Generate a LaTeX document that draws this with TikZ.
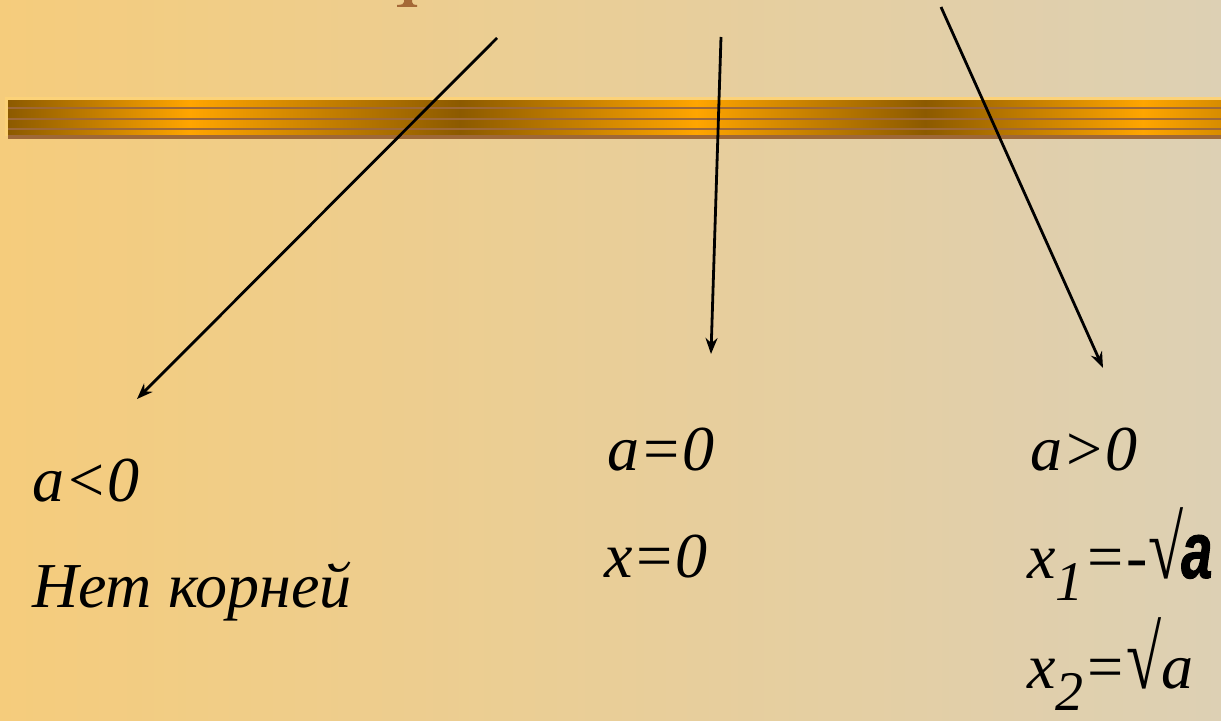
\documentclass[tikz,border=0pt]{standalone}
\usepackage{fontspec}
\setmainfont{Liberation Serif}
\newfontfamily\impactish[FakeStretch=0.7,FakeBold=1.2]{Liberation Sans}
\usetikzlibrary{arrows.meta}
\definecolor{bgL}{RGB}{245,204,124}
\definecolor{bgR}{RGB}{221,208,180}
\definecolor{bardark}{RGB}{140,90,0}
\definecolor{barbright}{RGB}{255,165,0}
\definecolor{barend}{RGB}{215,140,0}
\definecolor{barline}{RGB}{158,104,55}
\definecolor{baredge}{RGB}{252,210,120}
\definecolor{titlebrown}{RGB}{165,105,55}
\pgfdeclarehorizontalshading{barshade}{100bp}{color(0bp)=(bardark); color(25bp)=(bardark); color(32.5bp)=(barbright); color(43.63bp)=(bardark); color(53.36bp)=(barbright); color(62.8bp)=(bardark); color(71.78bp)=(barbright); color(75bp)=(barend); color(100bp)=(barend)}
\newcommand{\rootsign}{\scalebox{1.0}[1.4]{\upshape √}}
\newcommand{\lowsub}[1]{\raisebox{-22bp}{\fontsize{56bp}{60bp}\selectfont #1}}
\begin{document}
\begin{tikzpicture}[x=1bp,y=-1bp,
  txt/.style={inner sep=0pt, anchor=base west, font=\fontsize{64bp}{76bp}\selectfont\itshape},
  arr/.style={line width=2.8bp, -{Stealth[length=16bp,width=12bp]}}]
\useasboundingbox (0,0) rectangle (1221,721);
\shade[left color=bgL,right color=bgR] (0,0) rectangle (1221,721);
% fragment of the cut-off title
\fill[titlebrown] (404,0) -- (404,2) .. controls (403,4.5) .. (397,5) -- (397,7) -- (417,7) -- (417,5) .. controls (413,4.5) .. (412,2) -- (412,0) -- cycle;
% decorative bar
\fill[baredge] (5,97.5) rectangle (1221,136);
\shade[shading=barshade] (8,100.5) rectangle (1221,136);
\foreach \yy in {107,118,128} \fill[barline] (8,\yy) rectangle (1221,\yy+2.2);
\fill[barline] (8,135.5) rectangle (1221,139);
% arrows
\coordinate (s1) at (497,38);  \coordinate (e1) at (137,399);
\coordinate (s2) at (721,37);  \coordinate (e2) at (711,354);
\coordinate (s3) at (941,7);   \coordinate (e3) at (1103,368);
\draw[arr] (s1) -- (e1);
\draw[arr] (s2) -- (e2);
\draw[arr] (s3) -- (e3);
% texts
\node[txt] (aneg) at (32,501) {a<0};
\node[txt] (noroots) at (32,607) {Нет корней};
\node[txt] (azero) at (607,470) {a=0};
\node[txt] (xzero) at (604,577) {x=0};
\node[txt] (apos) at (1030,470) {a>0};
\node[txt] (xone) at (1027,578) {x\lowsub{1}=-\rootsign\kern-2bp{\impactish\bfseries\fontsize{80bp}{80bp}\selectfont a}};
\node[txt] (xtwo) at (1027,688) {x\lowsub{2}=\rootsign a};
\end{tikzpicture}
\end{document}
